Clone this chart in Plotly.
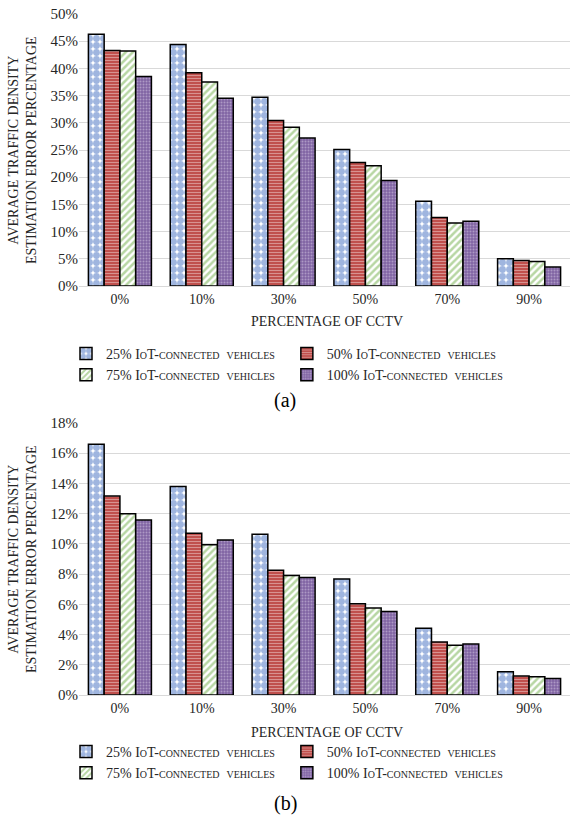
import plotly.graph_objects as go

cctv = ["0%", "10%", "30%", "50%", "70%", "90%"]
series_names = [
    "25% IoT-connected\u00a0 vehicles",
    "50% IoT-connected\u00a0 vehicles",
    "75% IoT-connected\u00a0 vehicles",
    "100% IoT-connected\u00a0 vehicles",
]

# (a) average estimation error, fraction
err_a_25 = [0.463, 0.444, 0.347, 0.251, 0.156, 0.050]
err_a_50 = [0.433, 0.392, 0.304, 0.227, 0.126, 0.047]
err_a_75 = [0.432, 0.375, 0.292, 0.221, 0.116, 0.045]
err_a_100 = [0.385, 0.345, 0.272, 0.194, 0.119, 0.035]

# (b) average estimation error, fraction
err_b_25 = [0.166, 0.138, 0.1063, 0.0768, 0.0441, 0.0154]
err_b_50 = [0.1317, 0.107, 0.0825, 0.0604, 0.035, 0.0126]
err_b_75 = [0.120, 0.0995, 0.079, 0.0576, 0.033, 0.0121]
err_b_100 = [0.1158, 0.1026, 0.0778, 0.0553, 0.0337, 0.011]

ticks_a = [0, 0.05, 0.10, 0.15, 0.20, 0.25, 0.30, 0.35, 0.40, 0.45, 0.50]
ticks_b = [0, 0.02, 0.04, 0.06, 0.08, 0.10, 0.12, 0.14, 0.16, 0.18]

FONT = "Liberation Serif, Times New Roman, serif"
W, H = 570, 819
TXT = "#262626"

styles = [
    dict(color="white", pattern=dict(shape=".", fgcolor="#3F6CC0", bgcolor="white",
                                     size=7, solidity=0.75, fillmode="overlay")),
    dict(color="#C0504D", pattern=dict(shape="-", fgcolor="white", bgcolor="#C0504D",
                                       size=3, solidity=0.25, fillmode="overlay")),
    dict(color="white", pattern=dict(shape="/", fgcolor="#70AD47", bgcolor="white",
                                     size=5, solidity=0.5, fillmode="overlay")),
    dict(color="#8064A2", pattern=dict(shape=".", fgcolor="#D9CCE8", bgcolor="#8064A2",
                                       size=3, solidity=0.35, fillmode="overlay")),
]

fig = go.Figure()

for data, xa, ya, lg in [
    ([err_a_25, err_a_50, err_a_75, err_a_100], "x", "y", "legend"),
    ([err_b_25, err_b_50, err_b_75, err_b_100], "x2", "y2", "legend2"),
]:
    for name, vals, st in zip(series_names, data, styles):
        fig.add_trace(go.Bar(
            x=cctv, y=vals, name=name, xaxis=xa, yaxis=ya, legend=lg,
            marker=dict(color=st["color"], pattern=st["pattern"],
                        line=dict(color="black", width=1.5)),
        ))


def py(px):
    return 1 - px / H


grid = dict(showgrid=True, gridcolor="#D9D9D9", gridwidth=1, zeroline=False,
            tickfont=dict(family=FONT, size=15, color=TXT), ticks="",
            showline=False)
xcommon = dict(tickfont=dict(family=FONT, size=14, color=TXT), ticks="",
               showline=True, linecolor="#D9D9D9", linewidth=1, showgrid=False)

legend_common = dict(orientation="h", xanchor="left", yanchor="top",
                     tracegroupgap=0,
                     font=dict(family=FONT, size=14, color=TXT, variant="small-caps"),
                     itemwidth=30, bgcolor="rgba(0,0,0,0)")

fig.update_layout(
    width=W, height=H,
    margin=dict(l=0, r=0, t=0, b=0, autoexpand=False),
    paper_bgcolor="white", plot_bgcolor="white",
    barmode="group", bargap=0.23, bargroupgap=0,
    font=dict(family=FONT, color=TXT),
    xaxis=dict(domain=[79 / W, 1], anchor="y", **xcommon),
    yaxis=dict(domain=[py(286), py(14)], anchor="x", range=[0, 0.5],
               tickvals=ticks_a, tickformat=".0%", **grid),
    xaxis2=dict(domain=[79 / W, 1], anchor="y2", **xcommon),
    yaxis2=dict(domain=[py(695), py(423)], anchor="x2", range=[0, 0.18],
                tickvals=ticks_b, tickformat=".0%", **grid),
    legend=dict(x=66 / W, y=py(338), **legend_common),
    legend2=dict(x=66 / W, y=py(736), **legend_common),
)

ytitle = "AVERAGE TRAFFIC DENSITY<br>ESTIMATION ERROR PERCENTAGE"
annots = [
    dict(text=ytitle, x=22 / W, y=py(150), textangle=-90),
    dict(text=ytitle, x=22 / W, y=py(559), textangle=-90),
    dict(text="PERCENTAGE OF CCTV", x=327 / W, y=py(322)),
    dict(text="PERCENTAGE OF CCTV", x=327 / W, y=py(732)),
]
for a in annots:
    fig.add_annotation(xref="paper", yref="paper", showarrow=False,
                       xanchor="center", yanchor="middle",
                       font=dict(family=FONT, size=14, color=TXT), **a)

for label, ypx in [("(a)", 400), ("(b)", 803)]:
    fig.add_annotation(text=label, xref="paper", yref="paper", x=285 / W, y=py(ypx),
                       showarrow=False, xanchor="center", yanchor="middle",
                       font=dict(family=FONT, size=20, color="black"))

fig.write_html("out.html")
